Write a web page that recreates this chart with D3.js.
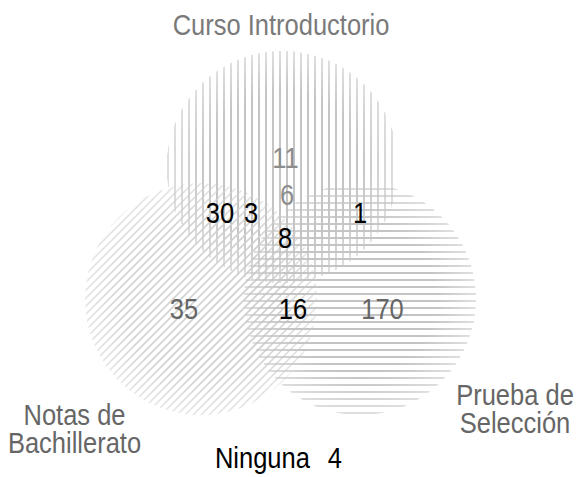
<!DOCTYPE html>
<html>
<head>
<meta charset="utf-8">
<script src="https://cdn.jsdelivr.net/npm/d3@7"></script>
<style>
  html, body { margin: 0; padding: 0; background: #fff; }
  svg text { font-family: "Liberation Sans", Arial, sans-serif; }
</style>
</head>
<body>
<div id="chart"></div>
<script>
/***********************************************************************/
//Data
/***********************************************************************/
const sets = ['Curso Introductorio', 'Notas de Bachillerato', 'Prueba de Selección']
const setLabelLines = [['Curso Introductorio'], ['Notas de', 'Bachillerato'], ['Prueba de', 'Selección']]
const regions = ['C', 'C∩N', 'C∩N (borde)', 'C∩P', 'C∩N∩P', 'C∩P (borde)', 'N', 'N∩P', 'P']
const counts = [11, 30, 3, 1, 8, 6, 35, 16, 170]
const noneLabel = 'Ninguna'
const noneCount = 4

/***********************************************************************/
//Layout (abstract units 0-100, mapped through scales)
/***********************************************************************/
const width = 578
const height = 477

const xScale = d3.scaleLinear().domain([0, 100]).range([0, width])
const yScale = d3.scaleLinear().domain([0, 100]).range([0, height])

// circle centres, radius and hatch direction per set
const circleLayout = [
  { cx: 48.88, cy: 35.0, r: 20.1, hatch: 'v' },
  { cx: 34.78, cy: 62.7, r: 20.1, hatch: 'd' },
  { cx: 62.28, cy: 62.7, r: 20.1, hatch: 'h' }
]
// region count positions (text anchor middle, baseline)
const regionLayout = [
  { x: 49.39, y: 35.22, color: '#8c8c8c' },
  { x: 38.06, y: 46.75, color: '#000' },
  { x: 43.43, y: 46.75, color: '#000' },
  { x: 62.28, y: 46.75, color: '#000' },
  { x: 49.31, y: 51.99, color: '#000' },
  { x: 49.65, y: 42.98, color: '#8c8c8c' },
  { x: 31.83, y: 66.88, color: '#666' },
  { x: 50.69, y: 66.88, color: '#000' },
  { x: 66.18, y: 66.88, color: '#666' }
]
const setLabelLayout = [
  { x: 48.62, y: 7.34, color: '#7a7a7a' },
  { x: 12.89, y: 89.10, color: '#666' },
  { x: 89.10, y: 84.91, color: '#666' }
]
const noneLayout = { x: 48.18, y: 98.11, gap: 18 }
const lineGap = 5.77
const fontSize = 30
const narrow = 0.85

/***********************************************************************/
//Dom
/***********************************************************************/
const svg = d3.select('#chart')
  .append('svg')
  .attr('width', width)
  .attr('height', height)

const defs = svg.append('defs')

const hatchColor = '#c4c4c4'
const diagColor = '#d0d0d0'
const step = 7
const diagStep = 8

const grad = defs.append('radialGradient')
  .attr('id', 'fade')
grad.append('stop').attr('offset', '0%').attr('stop-color', '#fff')
grad.append('stop').attr('offset', '65%').attr('stop-color', '#fff')
grad.append('stop').attr('offset', '100%').attr('stop-color', '#888')

/***********************************************************************/
//Plotting
/***********************************************************************/
const gCircles = svg.append('g').attr('class', 'circles')

circleLayout.forEach((c, i) => {
  const cx = xScale(c.cx)
  const cy = yScale(c.cy)
  const r = xScale(c.r)

  defs.append('clipPath').attr('id', 'clip_' + i)
    .append('circle').attr('cx', cx).attr('cy', cy).attr('r', r)

  defs.append('mask').attr('id', 'mask_' + i)
    .append('circle').attr('cx', cx).attr('cy', cy).attr('r', r)
    .attr('fill', 'url(#fade)')

  const g = gCircles.append('g')
    .attr('class', 'set-circle')
    .attr('id', 'set_' + i)
    .attr('clip-path', `url(#clip_${i})`)
    .attr('mask', `url(#mask_${i})`)

  if (c.hatch === 'v') {
    g.selectAll('line')
      .data(d3.range(Math.ceil((cx - r) / step) * step, cx + r, step))
      .join('line')
      .attr('x1', d => d).attr('x2', d => d)
      .attr('y1', cy - r).attr('y2', cy + r)
  } else if (c.hatch === 'h') {
    g.selectAll('line')
      .data(d3.range(Math.ceil((cy - r) / step) * step, cy + r, step))
      .join('line')
      .attr('y1', d => d).attr('y2', d => d)
      .attr('x1', cx - r).attr('x2', cx + r)
  } else {
    // "/" lines: x + y = k
    g.selectAll('line')
      .data(d3.range(Math.floor((cx + cy - 2 * r) / diagStep) * diagStep, cx + cy + 2 * r, diagStep))
      .join('line')
      .attr('x1', d => cx - r).attr('y1', d => d - (cx - r))
      .attr('x2', d => cx + r).attr('y2', d => d - (cx + r))
  }

  g.selectAll('line')
    .attr('stroke', c.hatch === 'd' ? diagColor : hatchColor)
    .attr('stroke-width', c.hatch === 'd' ? 1.6 : 2)
})

// condensed text: plain sans squeezed horizontally
function narrowText(parent, x, y) {
  return parent.append('g')
    .attr('transform', `translate(${x},${y}) scale(${narrow},1)`)
    .append('text')
    .attr('text-anchor', 'middle')
    .attr('font-size', fontSize)
}

const gCounts = svg.append('g').attr('class', 'counts')

regions.forEach((r, i) => {
  narrowText(gCounts, xScale(regionLayout[i].x), yScale(regionLayout[i].y))
    .attr('fill', regionLayout[i].color)
    .text(counts[i])
})

const gLabels = svg.append('g').attr('class', 'set-labels')

sets.forEach((s, i) => {
  const t = narrowText(gLabels, xScale(setLabelLayout[i].x), yScale(setLabelLayout[i].y))
    .attr('fill', setLabelLayout[i].color)
  setLabelLines[i].forEach((line, j) => {
    t.append('tspan')
      .attr('x', 0)
      .attr('dy', j === 0 ? 0 : yScale(lineGap))
      .text(line)
  })
})

const none = narrowText(svg, xScale(noneLayout.x), yScale(noneLayout.y))
  .attr('fill', '#000')
none.append('tspan').text(noneLabel)
none.append('tspan').attr('dx', noneLayout.gap / narrow).text(noneCount)
</script>
</body>
</html>
